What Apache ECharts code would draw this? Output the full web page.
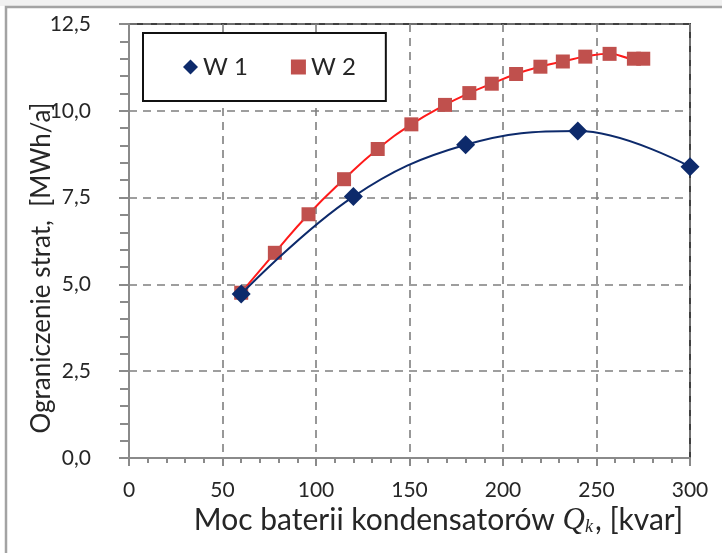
<!DOCTYPE html>
<html>
<head>
<meta charset="utf-8">
<script src="https://cdn.jsdelivr.net/npm/echarts@6/dist/echarts.min.js"></script>
<style>
html,body{margin:0;padding:0;background:#fff;}
#chart{width:722px;height:553px;}
</style>
</head>
<body>
<div id="chart"></div>
<script>
// Data
var w1X = [60, 120, 180, 240, 300];
var w1Y = [4.72, 7.53, 9.02, 9.42, 8.39];
var w2X = [60, 78, 96, 115, 133, 151, 169, 182, 194, 207, 220, 232, 244, 257, 270, 275];
var w2Y = [4.76, 5.91, 7.02, 8.03, 8.90, 9.61, 10.17, 10.51, 10.78, 11.06, 11.27, 11.42, 11.56, 11.64, 11.50, 11.50];
var seriesNames = ['W 1', 'W 2'];
var xTitle = '{a|Moc baterii kondensatorów }{q|Q}{k|k}{a|, [kvar]}';
var yTitle = 'Ograniczenie strat,  [MWh/a]';

function pairs(xs, ys) { return xs.map(function (x, i) { return [x, ys[i]]; }); }

var FONT = 'Lato';
var TXT = '#262626';
var chart = echarts.init(document.getElementById('chart'), null, {renderer: 'canvas'});
chart.setOption({
  animation: false,
  backgroundColor: '#ffffff',
  textStyle: {fontFamily: FONT},
  graphic: [
    {type: 'rect', z: -10, shape: {x: 0, y: 0, width: 722, height: 6}, style: {fill: '#f1f1f1'}},
    {type: 'rect', z: -10, shape: {x: 6, y: 7, width: 900, height: 700}, style: {fill: null, stroke: '#a3a3a3', lineWidth: 2.5}},
    {type: 'text', x: 42, y: 268, rotation: Math.PI / 2,
      style: {text: yTitle, fill: TXT, font: '26px Lato', align: 'center', verticalAlign: 'middle'}}
  ],
  grid: {left: 129, top: 24, right: 32, bottom: 95, show: true, borderColor: '#404040', borderWidth: 2, backgroundColor: 'transparent'},
  legend: {
    left: 143, top: 33,
    data: [{name: seriesNames[0], icon: 'diamond'}, {name: seriesNames[1], icon: 'rect'}],
    itemWidth: 15, itemHeight: 15, itemGap: 43,
    padding: [22, 30, 22, 40],
    borderColor: '#111', borderWidth: 2, backgroundColor: '#fff',
    textStyle: {fontFamily: FONT, fontSize: 24, color: TXT}
  },
  xAxis: {
    type: 'value', min: 0, max: 300, interval: 50,
    name: xTitle, nameLocation: 'middle', nameGap: 47, nameMoveOverlap: false,
    nameTextStyle: {
      fontFamily: FONT, fontSize: 30, color: TXT, padding: [0, 0, 0, 58],
      rich: {
        a: {fontFamily: FONT, fontSize: 30, color: TXT},
        q: {fontFamily: 'Liberation Serif', fontStyle: 'italic', fontSize: 31, color: TXT},
        k: {fontFamily: 'Liberation Serif', fontStyle: 'italic', fontSize: 18, color: TXT, verticalAlign: 'bottom', padding: [10, 2, 0, 0]}
      }
    },
    axisLine: {show: true, onZero: false, lineStyle: {color: '#8a8a8a', width: 2}},
    axisTick: {show: true, length: 8, lineStyle: {color: '#8a8a8a', width: 2}},
    minorTick: {show: true, splitNumber: 5, length: 5, lineStyle: {color: '#8a8a8a', width: 2}},
    axisLabel: {fontFamily: FONT, fontSize: 21, color: TXT, margin: 22},
    splitLine: {show: true, lineStyle: {color: '#7f7f7f', width: 1.6, type: [8, 6]}}
  },
  yAxis: {
    type: 'value', min: 0, max: 12.5, interval: 2.5,
    axisLine: {show: true, onZero: false, lineStyle: {color: '#8a8a8a', width: 2}},
    axisTick: {show: true, length: 10, lineStyle: {color: '#8a8a8a', width: 2}},
    minorTick: {show: true, splitNumber: 5, length: 9, lineStyle: {color: '#8a8a8a', width: 2}},
    axisLabel: {fontFamily: FONT, fontSize: 21, color: TXT, margin: 38,
      formatter: function (v) { return v.toFixed(1).replace('.', ','); }},
    splitLine: {show: true, lineStyle: {color: '#7f7f7f', width: 1.6, type: [8, 6]}}
  },
  series: [
    {
      name: seriesNames[0], type: 'line', data: pairs(w1X, w1Y), smooth: 0.4,
      symbol: 'diamond', symbolSize: 19,
      lineStyle: {color: '#0d2a6b', width: 2},
      itemStyle: {color: '#0d2a6b'},
      z: 3
    },
    {
      name: seriesNames[1], type: 'line', data: pairs(w2X, w2Y), smooth: 0.5,
      symbol: 'rect', symbolSize: 14,
      lineStyle: {color: '#ff1a1a', width: 2},
      itemStyle: {color: '#c0504d'},
      z: 2
    }
  ]
});
</script>
</body>
</html>
